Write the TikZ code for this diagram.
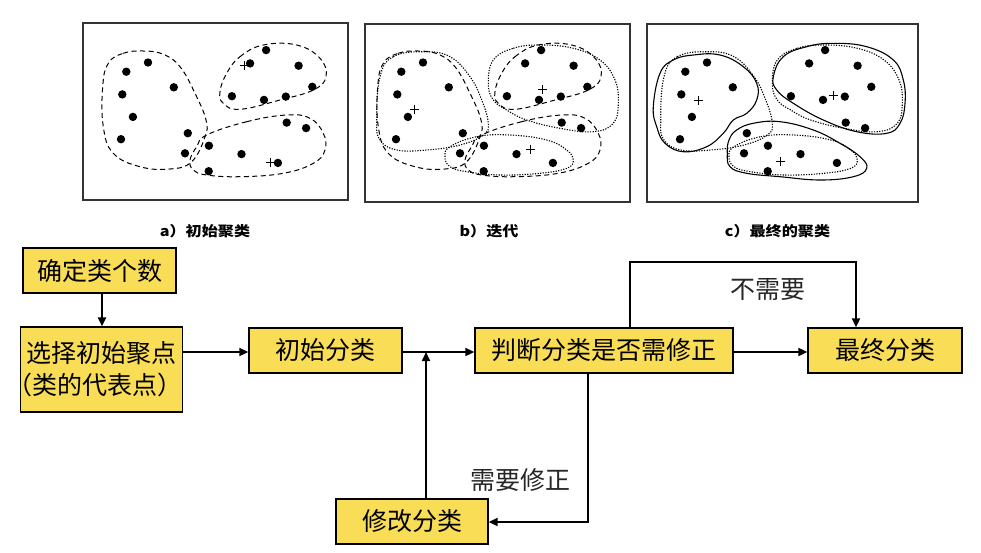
\documentclass[tikz,border=0pt]{standalone}
\usepackage{fontspec}
\usepackage{graphicx}
\setmainfont{Noto Sans CJK SC}
\usetikzlibrary{arrows.meta}
\definecolor{boxyellow}{RGB}{249,221,86}
\newcommand\shpLa[1]{\draw[#1] plot[smooth cycle,tension=0.7] coordinates {(108.3,63.3) (123.3,53.3) (143.3,51) (163.3,54.3) (180,66.7) (195,93.3) (206,120) (205,136.7) (191.7,161.7) (170,169) (140,166.7) (113.3,153.3) (103.3,126.7) (102.7,86.7)};}
\newcommand\shpTa[1]{\draw[#1] plot[smooth cycle,tension=0.7] coordinates {(226.7,73.3) (240,56.7) (263.3,45) (296.7,45) (320,58.3) (326,76.7) (313.3,90) (280,100) (240,109.3) (223.3,103.3) (220,91.7)};}
\newcommand\shpBa[1]{\draw[#1] plot[smooth cycle,tension=0.7] coordinates {(206.7,135) (246.7,121.7) (286.7,115) (310,118.3) (323.3,133.3) (325,150) (313.3,163.3) (283.3,173.3) (240,176.7) (206.7,175) (193.3,170) (190,160) (196.7,146.7)};}
\newcommand\shpLb[1]{\draw[#1] plot[smooth cycle,tension=0.7] coordinates {(105,76.7) (118.3,56.7) (148.3,51.7) (175,56.7) (195,76.7) (206.7,100) (213.3,123.3) (208.3,135) (185,145) (151.7,150) (121.7,150) (105,140) (101.7,120)};}
\newcommand\shpTb[1]{\draw[#1] plot[smooth cycle,tension=0.7] coordinates {(218.3,60) (238.3,48.3) (265,45) (298.3,48.3) (325,60) (340,80) (343.3,103.3) (338.3,123.3) (318.3,131.7) (285,128.3) (251.7,120) (231.7,110) (218.3,100) (213.3,83.3)};}
\newcommand\shpBb[1]{\draw[#1] plot[smooth cycle,tension=0.7] coordinates {(175,146.7) (201.7,136.7) (235,135) (271.7,140) (291.7,150) (298.3,160) (291.7,168.3) (265,173.3) (225,175) (191.7,171.7) (175,166.7) (170,156.7)};}
\newcommand\shpLc[1]{\draw[#1] plot[smooth cycle,tension=0.7] coordinates {(101,73.3) (114.3,60) (134.3,55) (161,55) (184.3,66.7) (197.7,83.3) (197.7,100) (187.7,113.3) (174.3,120) (164.3,133.3) (147.7,146.7) (124.3,151.7) (106,143.3) (97.7,126.7) (94.3,106.7)};}
\newcommand\shpTc[1]{\draw[#1] plot[smooth cycle,tension=0.7] coordinates {(224.3,56.7) (247.7,46.7) (274.3,43.3) (307.7,46.7) (334.3,60) (344.3,80) (346,103.3) (341,123.3) (327.7,133.3) (297.7,131.7) (264.3,120) (234.3,103.3) (217.7,90) (214.3,76.7)};}
\newcommand\shpBc[1]{\draw[#1] plot[smooth cycle,tension=0.7] coordinates {(177.7,130) (194.3,123.3) (221,121.7) (254.3,130) (281,143.3) (301,156.7) (307.7,168.3) (294.3,176.7) (261,180) (221,176.7) (187.7,173.3) (171,166.7) (168.3,153.3) (170,140)};}
\newcommand\alldots{\foreach \px/\py in {148/62.5,126.3/71.7,122.3/94.4,173.8/87.3,132.9/116.9,121/139.2,187.8/133.2,185/153.3,208.9/145.7,208.7/171.2,241.5/154.1,277.9/162.9,266.1/50.1,250.1/63.4,298.6/65.7,312.3/86.8,231.9/96.2,264/99.9,285.8/96.6,286.7/122.6,306.1/128.1}{\fill (\px,\py) circle (4.2pt);}}
\begin{document}
\begin{tikzpicture}[x=1pt,y=-1pt,
  flowbox/.style={draw=black,line width=1.3pt,fill=boxyellow,inner sep=0pt,align=center,font=\fontsize{25pt}{32pt}\selectfont},
  flowarrow/.style={line width=1.8pt,-{Triangle[length=9pt,width=8pt]}},
  edgelbl/.style={font=\fontsize{25pt}{30pt}\selectfont,text=black!85},
  captxt/.style={font=\fontsize{14pt}{16pt}\selectfont\bfseries},
  panelframe/.style={draw=black!80,line width=1.2pt},
  oldc/.style={dash pattern=on 5pt off 3.5pt,line width=1pt},
  newc/.style={dash pattern=on 1.2pt off 1.4pt,line width=1.1pt},
  finc/.style={line width=1.1pt},
  plusmk/.pic={\draw[line width=0.8pt] (-4.5,0)--(4.5,0) (0,-4.5)--(0,4.5);}
]
\useasboundingbox (0,0) rectangle (981,552);
% panel frames
\draw[panelframe] (83,23) rectangle (348,200);
\draw[panelframe] (365,24) rectangle (630,202);
\draw[panelframe] (647,24) rectangle (918,202);
% panel a
\begin{scope}
  \alldots
  \shpLa{oldc}\shpTa{oldc}\shpBa{oldc}
  \pic at (244.3,65) {plusmk};
  \pic at (270.7,162.7) {plusmk};
\end{scope}
% panel b
\begin{scope}[shift={(275,0)}]
  \alldots
  \shpLa{oldc}\shpTa{oldc}\shpBa{oldc}
  \shpLb{newc}\shpTb{newc}\shpBb{newc}
  \pic at (139.3,109.3) {plusmk};
  \pic at (255,149) {plusmk};
  \pic at (267.7,89) {plusmk};
\end{scope}
% panel c
\begin{scope}[shift={(559,0)}]
  \alldots
  \shpLb{newc}\shpTb{newc}\shpBb{newc}
  \shpLc{finc}\shpTc{finc}\shpBc{finc}
  \pic at (139.3,100.7) {plusmk};
  \pic at (221.7,161.7) {plusmk};
  \pic at (274.3,95) {plusmk};
\end{scope}
% captions
\node[captxt] (capa) at (205,231.5) {\scalebox{1.15}[1]{a）初始聚类}};
\node[captxt] (capb) at (489,231.5) {\scalebox{1.15}[1]{b）迭代}};
\node[captxt] (capc) at (777.5,231.5) {\scalebox{1.15}[1]{c）最终的聚类}};
% flowchart boxes
\node[flowbox,minimum width=153pt,minimum height=45pt] (b1) at (99.5,270.5) {确定类个数};
\node[flowbox,minimum width=157pt,minimum height=85pt] (b2) at (101.5,369.5) {选择初始聚点\\\hspace{-0.5em}（类的代表点）\hspace{-0.5em}};
\node[flowbox,minimum width=153pt,minimum height=45pt] (b3) at (325.5,350.5) {初始分类};
\node[flowbox,minimum width=258pt,minimum height=45pt] (b4) at (604,350.5) {判断分类是否需修正};
\node[flowbox,minimum width=154pt,minimum height=45pt] (b5) at (885,350.5) {最终分类};
\node[flowbox,minimum width=152pt,minimum height=45pt] (b6) at (412,521.5) {修改分类};
% helper coordinates
\coordinate (xa) at (102,0);
\coordinate (ya) at (0,352);
\coordinate (j) at (426,352);
\coordinate (t1) at (630,262);
\coordinate (t2) at (856,262);
\coordinate (d1) at (588,522);
% connectors
\draw[flowarrow,line width=2.4pt] (b1.south -| xa) -- (b2.north -| xa);
\draw[flowarrow] (b2.east |- ya) -- (b3.west |- ya);
\draw[flowarrow] (b3.east |- ya) -- (b4.west |- ya);
\draw[flowarrow] (b4.east |- ya) -- (b5.west |- ya);
\draw[flowarrow] (b6.north -| j) -- (j);
\draw[flowarrow] (b4.north -| t1) -- (t1) -- (t2) -- (b5.north -| t2);
\draw[flowarrow] (b4.south -| d1) -- (d1) -- (b6.east |- d1);
% labels
\node[edgelbl] (lno) at (767.5,289) {不需要};
\node[edgelbl] (lyes) at (520.5,480) {需要修正};
\end{tikzpicture}
\end{document}
